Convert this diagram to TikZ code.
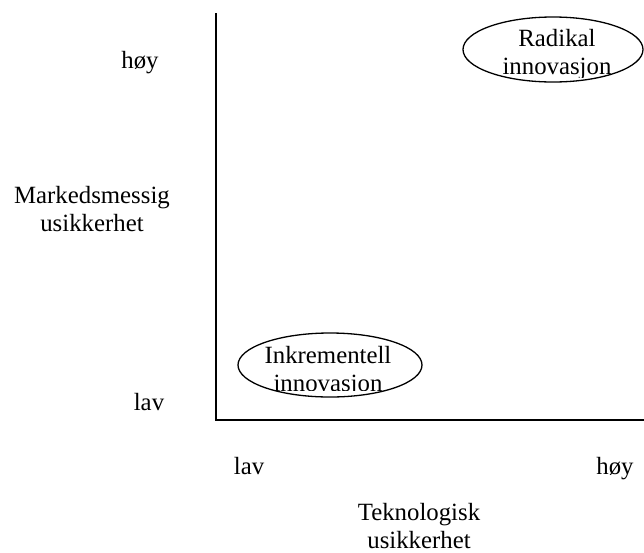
\documentclass[tikz,border=0pt]{standalone}
\usepackage{fontspec}
\setmainfont{Liberation Serif}
\usetikzlibrary{shapes.geometric}
\tikzset{
  lbl/.style={inner sep=0pt, anchor=base, font=\fontsize{24.8}{28}\selectfont},
  oval/.style={draw, ellipse, line width=1.3pt, inner sep=0pt},
  axis/.style={draw, line width=1.8pt}
}
\begin{document}
\begin{tikzpicture}[x=1pt, y=-1pt]
\useasboundingbox (0,0) rectangle (644,552);
% axes
\coordinate (top) at (216,13);
\coordinate (origin) at (216,420);
\coordinate (right) at (644,420);
\draw[axis, line join=miter] (top) -- (origin) -- (right);
% y-axis labels
\node[lbl] (yhigh) at (140,68) {høy};
\node[lbl] (ylab) at (92,203) {\begin{tabular}[t]{@{}c@{}}Markedsmessig\\usikkerhet\end{tabular}};
\node[lbl] (ylow) at (149,410) {lav};
% x-axis labels
\node[lbl] (xlow) at (249,474) {lav};
\node[lbl] (xhigh) at (615,474) {høy};
\node[lbl] (xlab) at (419,520) {\begin{tabular}[t]{@{}c@{}}Teknologisk\\usikkerhet\end{tabular}};
% ellipses
\node[oval, minimum width=180pt, minimum height=65pt] (rad) at (553,49.5) {};
\node[oval, minimum width=184pt, minimum height=64pt] (ink) at (330,365) {};
\begin{scope}
\clip (440,0) rectangle (644,77);
\node[lbl] (radtxt) at (557,46.5) {\begin{tabular}[t]{@{}c@{}}Radikal\\innovasjon\end{tabular}};
\end{scope}
\begin{scope}
\clip (220,320) rectangle (440,390);
\node[lbl] (inktxt) at (328,363) {\begin{tabular}[t]{@{}c@{}}Inkrementell\\innovasjon\end{tabular}};
\end{scope}
\end{tikzpicture}
\end{document}
